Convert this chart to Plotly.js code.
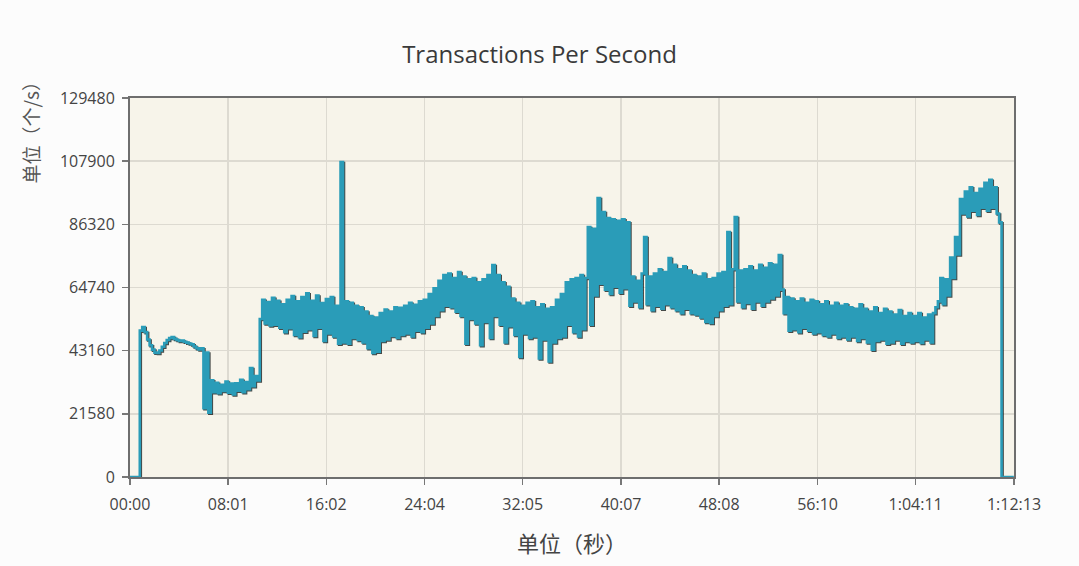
<!DOCTYPE html>
<html><head><meta charset="utf-8">
<script src="https://cdn.plot.ly/plotly-3.0.1.min.js"></script>
<style>
html,body{margin:0;padding:0;background:#fcfcfc;}
#chart{width:1079px;height:566px;}
#chart .scatterlayer .trace path.js-line{filter:drop-shadow(1px 1.5px 0px rgba(25,30,30,0.8));}
</style></head><body><div id="chart"></div>
<script>
// Transactions per second, one reading every 12 s
const sampleSeconds = 12;
const tps = [
0,0,0,0,50000,51200,49500,47000,45000,43500,
42500,42400,43200,44500,45800,46800,47500,47800,47200,46800,
46500,46600,46200,45900,45600,45300,44600,44000,43600,44000,
23500,42500,22000,33000,29000,32200,28600,31500,29400,32600,
28800,31900,28200,32000,29500,33200,29000,32400,30000,37200,
31000,34500,33000,54000,60500,52500,59800,51800,61200,52000,
60200,51000,59000,49500,60500,50800,61800,48500,60000,47800,
61500,49600,62800,50500,60200,48200,62000,51000,59400,46500,
60800,49000,61500,48000,58500,45500,107600,46000,60000,45500,
59500,47500,58500,46800,58000,46000,56500,44000,55000,42400,
54500,42800,56000,46500,57200,47000,56500,48200,58000,47500,
57800,48500,58500,49000,59500,48000,58800,50000,60000,49500,
60500,51000,62500,52500,64500,55000,67000,57000,69000,58500,
69500,58000,68000,56500,70000,55000,68500,45500,67500,54000,
68000,52500,66500,45000,67500,53000,69000,47500,72400,55000,
69000,52000,66500,46000,65000,51500,61000,48500,59500,41000,
58500,49000,59500,47500,60000,48000,58000,40500,59000,47000,
57500,39500,58000,46000,60500,47500,62500,48000,66500,52000,
67500,49500,68000,48000,69000,50500,68000,85400,52000,84800,
62000,95300,66000,90500,64000,88500,62500,88000,65000,87500,
63000,88000,64500,87000,58500,68500,60000,67000,58000,69500,
82000,59000,68500,57000,69500,58500,71000,57500,70000,59000,
74800,58000,72500,57000,71000,56000,72000,57500,70500,56000,
69000,55500,68500,54500,69500,53000,67500,52600,68000,55000,
69500,57000,70000,58500,83700,59000,71000,88800,60000,70500,
58000,71000,59500,72000,57500,70500,60000,72500,58500,71500,
60000,73000,61000,72500,62000,75800,64000,56000,61500,50000,
61000,50500,60000,49500,61000,51000,59500,50000,60500,49000,
60000,49500,59000,48500,60000,48000,58500,49000,59500,47500,
58500,48000,59000,47000,58000,48000,57500,46500,59000,47500,
57500,46000,56500,43500,58000,46500,56000,47000,57500,45500,
56500,46000,55500,47000,57000,45500,55000,46500,56000,46000,
55000,46500,56000,45800,54500,47000,55500,46000,56000,58000,
60000,68000,59000,67500,62000,75000,68000,82000,76000,95000,
90000,97500,89000,99000,91000,97000,89500,98500,92000,100500,
91000,101500,92000,99000,90000,87000,0,0,0,0,
0,0
];
const seconds = tps.map((_, i) => i * sampleSeconds);

const xTickSeconds = [0, 481, 962, 1444, 1925, 2407, 2888, 3370, 3851, 4333];
const xTickLabels = ['00:00','08:01','16:02','24:04','32:05','40:07','48:08','56:10','1:04:11','1:12:13'];
const yTickValues = [0, 21580, 43160, 64740, 86320, 107900, 129480];

const tickFont = {family:'Open Sans, sans-serif', size:16, color:'#444'};

const trace = {
  x: seconds, y: tps, type:'scatter', mode:'lines',
  line:{color:'#2a9cb8', width:2.6, shape:'hv'},
  hoverinfo:'skip'
};

const layout = {
  width:1079, height:566,
  paper_bgcolor:'#fcfcfc', plot_bgcolor:'#f7f4ea',
  margin:{l:130, r:65, t:98, b:89},
  showlegend:false,
  title:{text:'Transactions Per Second', font:{family:'Open Sans, sans-serif', size:24, color:'#3a3a3a'},
         x:0.5, xref:'container', xanchor:'center', y:0.903, yref:'container', yanchor:'middle'},
  xaxis:{range:[0,4333], tickvals:xTickSeconds, ticktext:xTickLabels,
         ticks:'outside', ticklen:6, tickwidth:1.5, tickcolor:'#777', ticklabelstandoff:6,
         showgrid:true, gridcolor:'#dddad1', gridwidth:1.5, zeroline:false,
         showline:true, mirror:true, linecolor:'#6e6e6e', linewidth:2,
         tickfont:tickFont, layer:'below traces', fixedrange:true,
         title:{text:'单位（秒）', font:{family:'Noto Sans CJK SC, sans-serif', size:22, color:'#444'}, standoff:22}},
  yaxis:{range:[0,129480], tickvals:yTickValues, ticktext:yTickValues.map(String),
         ticks:'outside', ticklen:6, tickwidth:1.5, tickcolor:'#777', ticklabelstandoff:4,
         showgrid:true, gridcolor:'#dddad1', gridwidth:1.5, zeroline:false,
         showline:true, mirror:true, linecolor:'#6e6e6e', linewidth:2,
         tickfont:tickFont, layer:'below traces', fixedrange:true},
  annotations:[{text:'单位（个/s）', textangle:-90, showarrow:false,
    xref:'paper', yref:'paper', x:-0.113, y:0.92, xanchor:'center', yanchor:'middle',
    font:{family:'Noto Sans CJK SC, sans-serif', size:19, color:'#555'}}]
};

Plotly.newPlot('chart', [trace], layout, {displayModeBar:false, staticPlot:true});
</script></body></html>
